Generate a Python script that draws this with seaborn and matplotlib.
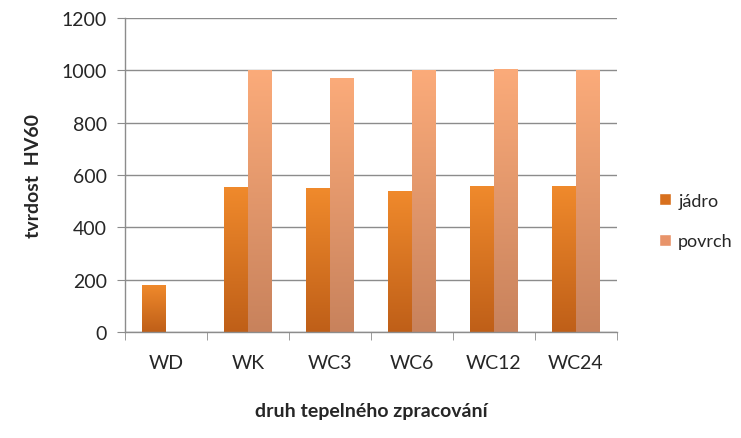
import numpy as np
import pandas as pd
import matplotlib
matplotlib.use("Agg")
import matplotlib.pyplot as plt
import seaborn as sns
from matplotlib.colors import LinearSegmentedColormap
from matplotlib.patches import Patch

categories = ["WD", "WK", "WC3", "WC6", "WC12", "WC24"]
jadro = [180, 555, 550, 540, 558, 558]
povrch = [np.nan, 1000, 971, 1000, 1006, 1000]
series_names = ["jádro", "povrch"]
y_ticks = [0, 200, 400, 600, 800, 1000, 1200]

df = pd.DataFrame({
    "kat": categories * 2,
    "hodnota": jadro + povrch,
    "serie": [series_names[0]] * len(categories) + [series_names[1]] * len(categories),
})

sns.set_style("white")
plt.rcParams["font.family"] = ["Lato", "DejaVu Sans"]

fig = plt.figure(figsize=(7.41, 4.39), dpi=100)
ax = fig.add_axes([125 / 741, 1 - 333 / 439, (617 - 125) / 741, (333 - 19) / 439])

base = {"jádro": "#E8782A", "povrch": "#F4A070"}
sns.barplot(data=df, x="kat", y="hodnota", hue="serie", palette=base,
            width=0.58, gap=0, ax=ax, legend=False, errorbar=None, saturation=1)

grads = {
    "jádro": LinearSegmentedColormap.from_list("j", ["#BF5F18", "#F08A2C"]),
    "povrch": LinearSegmentedColormap.from_list("p", ["#C8825C", "#FBAB7A"]),
}
grad_img = np.linspace(0, 1, 256).reshape(-1, 1)
n = len(categories)
for i, patch in enumerate(ax.patches[: 2 * n]):
    name = series_names[i // n]
    x0, y0 = patch.get_x(), patch.get_y()
    w, h = patch.get_width(), patch.get_height()
    if not np.isfinite(h) or h <= 0:
        continue
    im = ax.imshow(grad_img, cmap=grads[name], origin="lower", aspect="auto",
                   extent=(x0, x0 + w, y0, y0 + h), zorder=patch.get_zorder() + 0.1)
    im.set_clip_path(patch)
    patch.set_edgecolor("none")

ax.set_xlim(-0.5, n - 0.5)
ax.set_ylim(0, 1200)
ax.set_yticks(y_ticks)
ax.yaxis.grid(True, color="#8C8C8C", linewidth=1)
ax.set_axisbelow(True)
for s in ["top", "right"]:
    ax.spines[s].set_visible(False)
for s in ["left", "bottom"]:
    ax.spines[s].set_color("#8C8C8C")
    ax.spines[s].set_linewidth(1)

fs = 14
ax.tick_params(axis="y", length=6, color="#8C8C8C", labelsize=fs, pad=7, left=True)
ax.tick_params(axis="x", which="major", length=0, labelsize=fs, pad=16)
ax.set_xticks(np.arange(-0.5, n, 1.0), minor=True)
ax.tick_params(axis="x", which="minor", length=6, color="#8C8C8C", bottom=True)

ax.set_xlabel("druh tepelného zpracování", fontsize=fs, fontweight="bold", labelpad=22)
ax.set_ylabel("tvrdost  HV60", fontsize=fs, fontweight="bold", labelpad=14)

handles = [Patch(facecolor="#D8701E", label=series_names[0]),
           Patch(facecolor="#E8946A", label=series_names[1])]
fig.legend(handles=handles, loc="center left", bbox_to_anchor=(643 / 741, 1 - 222 / 439),
           frameon=False, fontsize=13, handlelength=0.65, handleheight=0.65,
           labelspacing=1.35, handletextpad=0.4)

fig.savefig("out.png", dpi=100)
